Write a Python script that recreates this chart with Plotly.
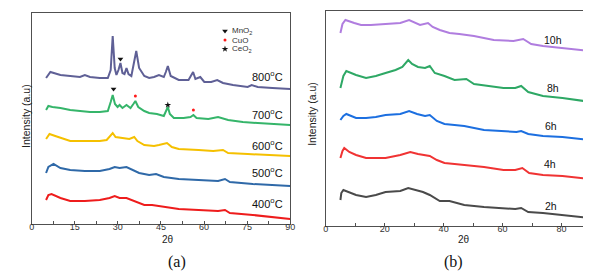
import plotly.graph_objects as go

# ---------------- Panel (a): calcination temperature ----------------
A800_x = [5.0, 6.5, 10.0, 13.4, 16.8, 18.5, 20.3, 23.7, 26.5, 27.5, 28.2, 28.9, 29.5, 30.2, 30.9, 31.6,
          32.3, 33.0, 33.7, 34.7, 35.7, 36.4, 37.4, 39.2, 40.9, 42.6, 44.3, 46.0, 46.7, 47.4, 48.4, 51.2,
          54.6, 55.6, 56.2, 57.0, 58.7, 60.1, 62.5, 64.6, 66.6, 70.1, 75.2, 76.6, 78.7, 83.8, 90.0]
A800_y = [146, 152, 149, 148, 147, 149, 147, 146, 146, 154, 188, 156, 149, 154, 161, 151,
          150, 156, 150, 148, 161, 173, 156, 148, 146, 147, 149, 147, 152, 158, 148, 144,
          144, 149, 152, 145, 147, 142, 142, 144, 141, 139, 137, 139, 137, 136, 135]

A700_x = [5.0, 5.8, 7.2, 10.0, 13.4, 16.8, 20.3, 23.7, 26.5, 27.5, 28.2, 29.0, 29.9, 30.6, 31.6, 33.0,
          34.4, 35.4, 36.1, 37.1, 39.2, 40.9, 43.6, 46.0, 46.7, 47.4, 48.1, 49.5, 52.9, 55.3, 56.3, 57.4,
          61.5, 64.9, 68.4, 73.5, 78.7, 83.8, 90.0]
A700_y = [114, 118, 117, 116, 114, 113, 112, 112, 113, 122, 129, 120, 117, 119, 116, 119,
          116, 120, 123, 117, 113, 111, 110, 108, 112, 117, 110, 106, 106, 107, 109, 106,
          105, 107, 104, 102, 101, 100, 99]

A600_x = [5.0, 6.2, 8.2, 10.0, 13.4, 18.5, 23.7, 26.1, 27.5, 28.2, 29.2, 32.3, 34.0, 35.7, 36.8, 39.2,
          42.6, 44.3, 47.1, 48.8, 51.2, 58.1, 63.2, 66.6, 68.4, 75.2, 82.1, 90.0]
A600_y = [85, 90, 88, 86, 83, 83, 83, 84, 88, 91, 87, 86, 85, 87, 83, 79,
          78, 79, 81, 77, 75, 74, 73, 74, 71, 70, 69, 68]

A500_x = [5.0, 5.8, 7.6, 10.0, 13.4, 18.5, 23.7, 27.1, 28.9, 30.6, 33.0, 35.0, 37.4, 40.9, 43.3, 46.0,
          51.2, 58.1, 64.9, 67.3, 69.0, 77.0, 83.8, 90.0]
A500_y = [51, 57, 60, 56, 54, 53, 53, 55, 57, 56, 57, 54, 51, 49, 50, 47,
          45, 44, 43, 45, 42, 40, 39, 38]

A400_x = [5.0, 5.8, 6.9, 10.0, 13.4, 18.5, 23.7, 27.1, 28.9, 30.6, 33.0, 35.7, 39.2, 41.9, 46.0, 51.2,
          58.1, 64.9, 67.3, 69.0, 77.0, 83.8, 90.0]
A400_y = [24, 29, 30, 26, 23, 23, 24, 26, 28, 26, 26, 23, 19, 19, 17, 15,
          14, 13, 14, 11, 9, 7, 5]

A_names = ["800<sup>o</sup>C", "700<sup>o</sup>C", "600<sup>o</sup>C", "500<sup>o</sup>C", "400<sup>o</sup>C"]
A_colors = ["#5f6096", "#35b56a", "#f5c000", "#2f69a8", "#ee1c1c"]
A_label_x = [82.1, 82.1, 82.1, 82.1, 82.1]
A_label_y = [148, 110, 79, 52, 21]

# phase markers on panel (a)
MnO2_x = [30.9, 28.5]
MnO2_y = [165, 135]
CuO_x = [36.1, 56.3]
CuO_y = [128, 114]
CeO2_x = [47.4]
CeO2_y = [119]
legend_names = ["MnO<sub>2</sub>", "CuO", "CeO<sub>2</sub>"]
legend_x = [67.3, 67.3, 67.3]
legend_y = [193, 184, 175]

# ---------------- Panel (b): calcination time ----------------
B10_x = [5.0, 5.7, 6.7, 8.0, 9.7, 12.0, 15.3, 20.3, 25.3, 28.3, 30.3, 32.0, 34.7, 36.3, 38.7, 42.0,
         45.3, 50.3, 57.0, 63.7, 67.0, 69.7, 73.7, 80.3, 85.3, 90.0]
B10_y = [193, 202, 206, 205, 203, 201, 201, 202, 203, 206, 203, 201, 203, 199, 196, 193,
         192, 190, 186, 185, 187, 182, 180, 178, 177, 175]

B8_x = [5.0, 6.0, 7.0, 8.7, 10.3, 13.7, 17.0, 20.3, 23.7, 26.0, 28.0, 29.3, 31.3, 33.7, 35.3, 37.0,
        40.3, 43.7, 47.7, 50.3, 55.3, 60.3, 64.3, 66.3, 68.7, 73.7, 80.3, 85.3, 90.0]
B8_y = [138, 150, 155, 153, 151, 148, 150, 153, 156, 159, 166, 162, 159, 158, 160, 153,
        150, 146, 147, 142, 140, 138, 138, 140, 134, 130, 128, 126, 124]

B6_x = [5.0, 6.0, 7.0, 8.7, 10.3, 13.7, 17.0, 20.3, 25.3, 28.3, 31.0, 33.7, 35.3, 37.7, 40.3, 43.7,
        47.0, 53.7, 60.3, 64.7, 66.3, 68.7, 73.7, 80.3, 90.0]
B6_y = [106, 110, 112, 110, 108, 108, 109, 111, 112, 115, 112, 110, 111, 105, 102, 101,
        100, 96, 95, 94, 95, 92, 90, 89, 86]

B4_x = [5.0, 5.7, 6.3, 8.0, 10.3, 13.7, 17.0, 20.3, 25.3, 28.7, 31.3, 33.7, 35.3, 37.7, 40.3, 43.7,
        47.0, 53.7, 60.3, 64.3, 66.7, 69.0, 73.7, 80.3, 90.0]
B4_y = [68, 75, 78, 74, 71, 68, 68, 68, 71, 74, 72, 71, 70, 66, 63, 62,
        61, 59, 56, 56, 58, 53, 51, 50, 47]

B2_x = [5.0, 5.3, 6.0, 7.7, 10.3, 13.7, 17.0, 20.3, 25.3, 28.0, 30.3, 33.0, 35.3, 38.7, 42.0, 47.0,
        53.7, 60.3, 64.3, 66.3, 68.7, 73.7, 80.3, 90.0]
B2_y = [26, 33, 36, 34, 31, 29, 31, 34, 35, 38, 36, 34, 31, 25, 25, 21,
        19, 18, 17, 18, 14, 13, 11, 8]

B_names = ["10h", "8h", "6h", "4h", "2h"]
B_colors = ["#b07ddf", "#2ea865", "#1c6fe0", "#f03333", "#4a4a4a"]
B_label_x = [77, 77, 76.5, 76, 76.5]
B_label_y = [186, 138, 100, 62, 20]

# x-axis ticks
A_ticks = [0, 15, 30, 45, 60, 75, 90]
B_ticks = [0, 20, 40, 60, 80]

FONT = "Liberation Sans, Arial, sans-serif"
W, H = 591, 275

fig = go.Figure()

A_series = [(A800_x, A800_y), (A700_x, A700_y), (A600_x, A600_y), (A500_x, A500_y), (A400_x, A400_y)]
for (xs, ys), name, col in zip(A_series, A_names, A_colors):
    fig.add_trace(go.Scatter(x=xs, y=ys, mode="lines", line=dict(color=col, width=2),
                             name=name, showlegend=False, xaxis="x", yaxis="y", hoverinfo="skip"))

B_series = [(B10_x, B10_y), (B8_x, B8_y), (B6_x, B6_y), (B4_x, B4_y), (B2_x, B2_y)]
for (xs, ys), name, col in zip(B_series, B_names, B_colors):
    fig.add_trace(go.Scatter(x=xs, y=ys, mode="lines", line=dict(color=col, width=2),
                             name=name, showlegend=False, xaxis="x2", yaxis="y2", hoverinfo="skip"))

# phase markers
fig.add_trace(go.Scatter(x=MnO2_x + [legend_x[0]], y=MnO2_y + [legend_y[0]], mode="markers",
                         marker=dict(symbol="triangle-down", size=5, color="#111"),
                         showlegend=False, xaxis="x", yaxis="y"))
fig.add_trace(go.Scatter(x=CuO_x + [legend_x[1]], y=CuO_y + [legend_y[1]], mode="markers",
                         marker=dict(symbol="circle", size=3, color="#ff1a1a"),
                         showlegend=False, xaxis="x", yaxis="y"))
fig.add_trace(go.Scatter(x=CeO2_x + [legend_x[2]], y=CeO2_y + [legend_y[2]], mode="markers",
                         marker=dict(symbol="star", size=5, color="#111"),
                         showlegend=False, xaxis="x", yaxis="y"))

ann = []
for name, lx, ly in zip(legend_names, legend_x, legend_y):
    ann.append(dict(x=lx + 1.6, y=ly, xref="x", yref="y", text=name, showarrow=False,
                    xanchor="left", yanchor="middle", font=dict(size=8, color="#333", family=FONT)))
for name, lx, ly in zip(A_names, A_label_x, A_label_y):
    ann.append(dict(x=lx, y=ly, xref="x", yref="y", text=name, showarrow=False,
                    font=dict(size=11, color="#111", family=FONT)))
for name, lx, ly in zip(B_names, B_label_x, B_label_y):
    ann.append(dict(x=lx, y=ly, xref="x2", yref="y2", text=name, showarrow=False,
                    font=dict(size=10.5, color="#111", family=FONT)))

def px(x):
    return x / W

def py(y):
    return 1 - y / H

# axis titles, captions
ann += [
    dict(x=px(151), y=py(239), xref="paper", yref="paper", text="2θ", showarrow=False,
         font=dict(size=10, color="#222", family=FONT)),
    dict(x=px(467), y=py(239), xref="paper", yref="paper", text="2θ", showarrow=False,
         font=dict(size=10, color="#222", family=FONT)),
    dict(x=px(7), y=py(108), xref="paper", yref="paper", text="Intensity (a.u)", textangle=-90,
         showarrow=False, font=dict(size=10.5, color="#222", family=FONT)),
    dict(x=px(305), y=py(106), xref="paper", yref="paper", text="Intensity (a.u)", textangle=-90,
         showarrow=False, font=dict(size=10.5, color="#222", family=FONT)),
    dict(x=px(157), y=py(265), xref="paper", yref="paper", text="(a)", showarrow=False,
         font=dict(size=16, color="#111", family="Liberation Serif, Times New Roman, serif")),
    dict(x=px(460), y=py(265), xref="paper", yref="paper", text="(b)", showarrow=False,
         font=dict(size=16, color="#111", family="Liberation Serif, Times New Roman, serif")),
]

axis_common = dict(showline=True, mirror=True, linecolor="#505050", linewidth=1, showgrid=False,
                   zeroline=False, ticks="inside", ticklen=3, tickcolor="#505050",
                   ticklabelstandoff=-6,
                   tickfont=dict(size=9, color="#333", family=FONT))
yaxis_common = dict(showline=True, mirror=True, linecolor="#505050", linewidth=1, showgrid=False,
                    zeroline=False, showticklabels=False, ticks="")

fig.update_layout(
    width=W, height=H,
    margin=dict(l=0, r=0, t=0, b=0),
    paper_bgcolor="white", plot_bgcolor="white",
    showlegend=False,
    xaxis=dict(domain=[px(21), px(283)], range=[0, 90], tickvals=A_ticks,
               minor=dict(dtick=7.5, tick0=0, ticks="inside", ticklen=3, tickcolor="#505050"),
               anchor="y", **axis_common),
    yaxis=dict(domain=[py(216), py(5)], range=[0, 211], anchor="x", **yaxis_common),
    xaxis2=dict(domain=[px(319), px(588)], range=[0, 90], tickvals=B_ticks,
                minor=dict(dtick=10, tick0=0, ticks="inside", ticklen=3, tickcolor="#505050"),
                anchor="y2", **axis_common),
    yaxis2=dict(domain=[py(218), py(3)], range=[0, 215], anchor="x2", **yaxis_common),
    annotations=ann,
)

fig.write_html("out.html")
